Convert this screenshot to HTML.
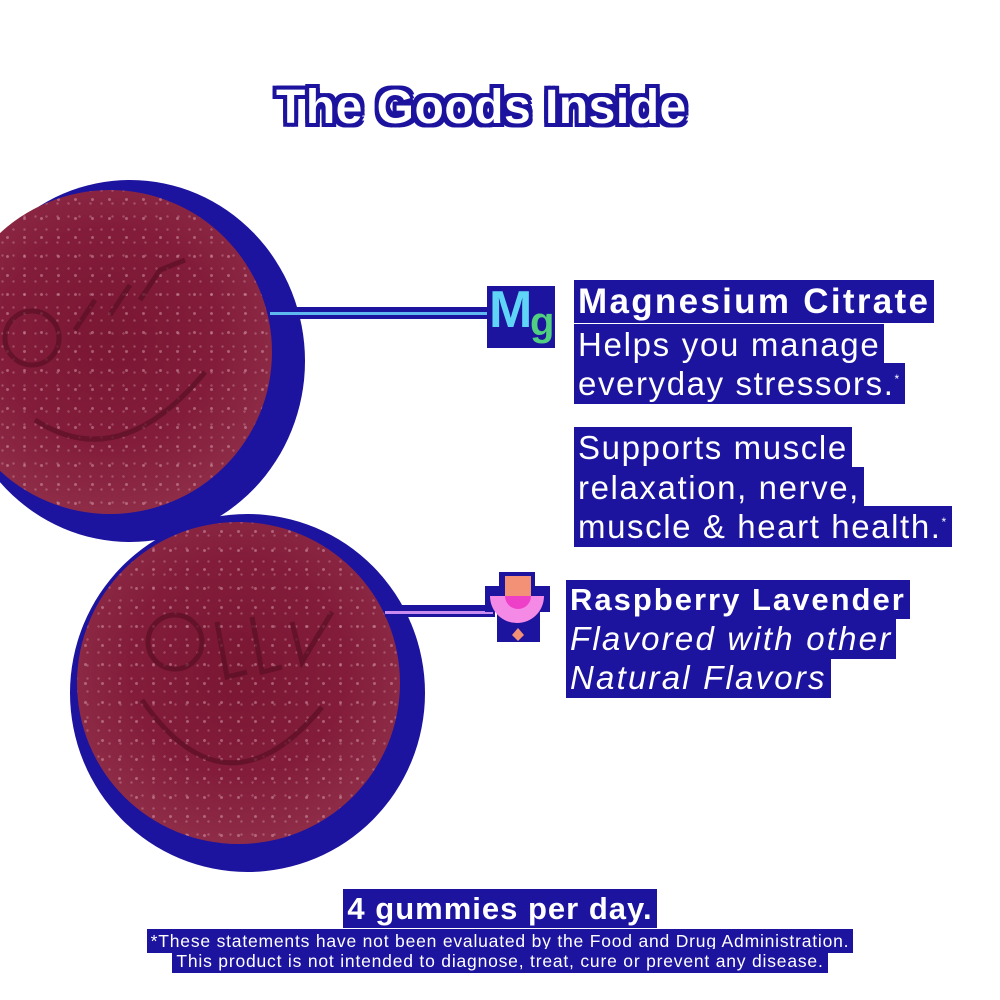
<!DOCTYPE html>
<html><head><meta charset="utf-8"><style>
html,body{margin:0;padding:0;background:#fff;}
body{width:1000px;height:1000px;position:relative;overflow:hidden;font-family:"Liberation Sans",sans-serif;}
.a{position:absolute;}
.l{position:absolute;white-space:nowrap;color:#fff;}
.l span{background:#1c139e;padding:2px 4px;}
.title{color:#fff;font-weight:bold;font-size:48px;letter-spacing:0.5px;
 text-shadow:2px 0 #1c139e,-2px 0 #1c139e,0 2px #1c139e,0 -2px #1c139e,2px 2px #1c139e,-2px -2px #1c139e,2px -2px #1c139e,-2px 2px #1c139e,4px 0 #1c139e,-4px 0 #1c139e,0 4px #1c139e,0 -4px #1c139e,4px 4px #1c139e,-4px -4px #1c139e,4px -4px #1c139e,-4px 4px #1c139e;}
.gum{position:absolute;border-radius:50%;
 background:radial-gradient(circle at 50% 45%,#7a1733 0%,#821c3a 45%,#8f2d48 75%,#a85a6c 92%,#8a3348 100%);}
.dots{position:absolute;border-radius:50%;opacity:.7;
 background-image:radial-gradient(circle,rgba(255,220,230,.5) 1.2px,transparent 1.8px),radial-gradient(circle,rgba(255,220,230,.35) 1px,transparent 1.5px);
 background-size:17px 19px,11px 13px;background-position:0 0,5px 7px;}
.halo{position:absolute;border-radius:50%;background:#1c139e;}
</style></head><body>

<div class="a title" style="left:276px;top:80px;">The Goods Inside</div>

<!-- gummy 1 -->
<div class="halo" style="left:-45px;top:180px;width:350px;height:362px;"></div>
<div class="gum" style="left:-52px;top:190px;width:324px;height:324px;"></div>
<div class="dots" style="left:-52px;top:190px;width:324px;height:324px;"></div>
<svg class="a" style="left:0;top:190px" width="280" height="330">
 <g fill="none" stroke="#5a0f25" stroke-width="5" opacity=".7">
  <circle cx="32" cy="148" r="27"/>
  <path d="M75 140 L95 110 M110 125 L130 95 M140 110 L160 80 L185 70"/>
  <path d="M35 230 Q120 285 205 182"/>
 </g>
</svg>

<!-- gummy 2 -->
<div class="halo" style="left:70px;top:514px;width:355px;height:358px;"></div>
<div class="gum" style="left:77px;top:522px;width:323px;height:322px;"></div>
<div class="dots" style="left:77px;top:522px;width:323px;height:322px;"></div>
<svg class="a" style="left:77px;top:522px" width="330" height="330">
 <g fill="none" stroke="#5a0f25" stroke-width="5" opacity=".7">
  <circle cx="98" cy="120" r="27"/>
  <path d="M140 100 L150 155 L170 150 M175 95 L185 150 L205 145 M215 100 L225 140 L255 90"/>
  <path d="M65 178 Q150 300 245 185"/>
 </g>
</svg>

<!-- connector 1 -->
<div class="a" style="left:270px;top:307px;width:220px;height:12px;background:#1c139e;"></div>
<div class="a" style="left:270px;top:312px;width:218px;height:3px;background:#5fb8f0;"></div>
<!-- Mg icon -->
<div class="a" style="left:487px;top:286px;width:68px;height:62px;background:#1c139e;"></div>
<div class="a" style="left:489px;top:280px;font-weight:bold;font-size:52px;color:#5fd4f6;">M</div>
<div class="a" style="left:530px;top:300px;font-weight:bold;font-size:40px;color:#4fcf7f;">g</div>

<!-- connector 2 -->
<div class="a" style="left:385px;top:605px;width:110px;height:12px;background:#1c139e;"></div>
<div class="a" style="left:385px;top:611px;width:108px;height:3px;background:#c98bf0;"></div>
<!-- raspberry icon -->
<svg class="a" style="left:482px;top:572px" width="70" height="80">
 <path d="M17 0 H53 V14 H68 V40 H58 V70 H15 V40 H3 V14 H17 Z" fill="#1c139e"/>
 <rect x="23" y="4" width="26" height="22" fill="#f29176"/>
 <path d="M8 24 H62 A27 27 0 0 1 8 24 Z" fill="#f58ae6"/>
 <path d="M23 24 H49 A13 13 0 0 1 23 24 Z" fill="#ee3fc9"/>
 <path d="M36 56 L42 63 L36 69 L30 63 Z" fill="#f29176"/>
</svg>

<!-- text -->
<div class="l" style="left:574px;top:282px;font-size:35px;font-weight:bold;letter-spacing:2.3px;"><span>Magnesium Citrate</span></div>
<div class="l" style="left:574px;top:326px;font-size:33px;letter-spacing:1.7px;"><span>Helps you manage</span></div>
<div class="l" style="left:574px;top:365px;font-size:33px;letter-spacing:1.6px;"><span>everyday stressors.<sup style="font-size:12px">*</sup></span></div>
<div class="l" style="left:574px;top:429px;font-size:33px;letter-spacing:1.6px;"><span>Supports muscle</span></div>
<div class="l" style="left:574px;top:469px;font-size:33px;letter-spacing:1.6px;"><span>relaxation, nerve,</span></div>
<div class="l" style="left:574px;top:508px;font-size:33px;letter-spacing:1.6px;"><span>muscle &amp; heart health.<sup style="font-size:12px">*</sup></span></div>
<div class="l" style="left:566px;top:582px;font-size:31px;font-weight:bold;letter-spacing:2px;"><span>Raspberry Lavender</span></div>
<div class="l" style="left:566px;top:620px;font-size:33px;font-style:italic;letter-spacing:2.2px;"><span>Flavored with other</span></div>
<div class="l" style="left:566px;top:659px;font-size:33px;font-style:italic;letter-spacing:2.2px;"><span>Natural Flavors</span></div>

<div class="l" style="left:0;width:1000px;text-align:center;top:891px;font-size:31px;font-weight:bold;letter-spacing:1px;"><span>4 gummies per day.</span></div>
<div class="l" style="left:0;width:1000px;text-align:center;top:931px;font-size:17.5px;letter-spacing:0.8px;"><span>*These statements have not been evaluated by the Food and Drug Administration.</span></div>
<div class="l" style="left:0;width:1000px;text-align:center;top:951px;font-size:17.5px;letter-spacing:0.8px;"><span>This product is not intended to diagnose, treat, cure or prevent any disease.</span></div>

</body></html>
